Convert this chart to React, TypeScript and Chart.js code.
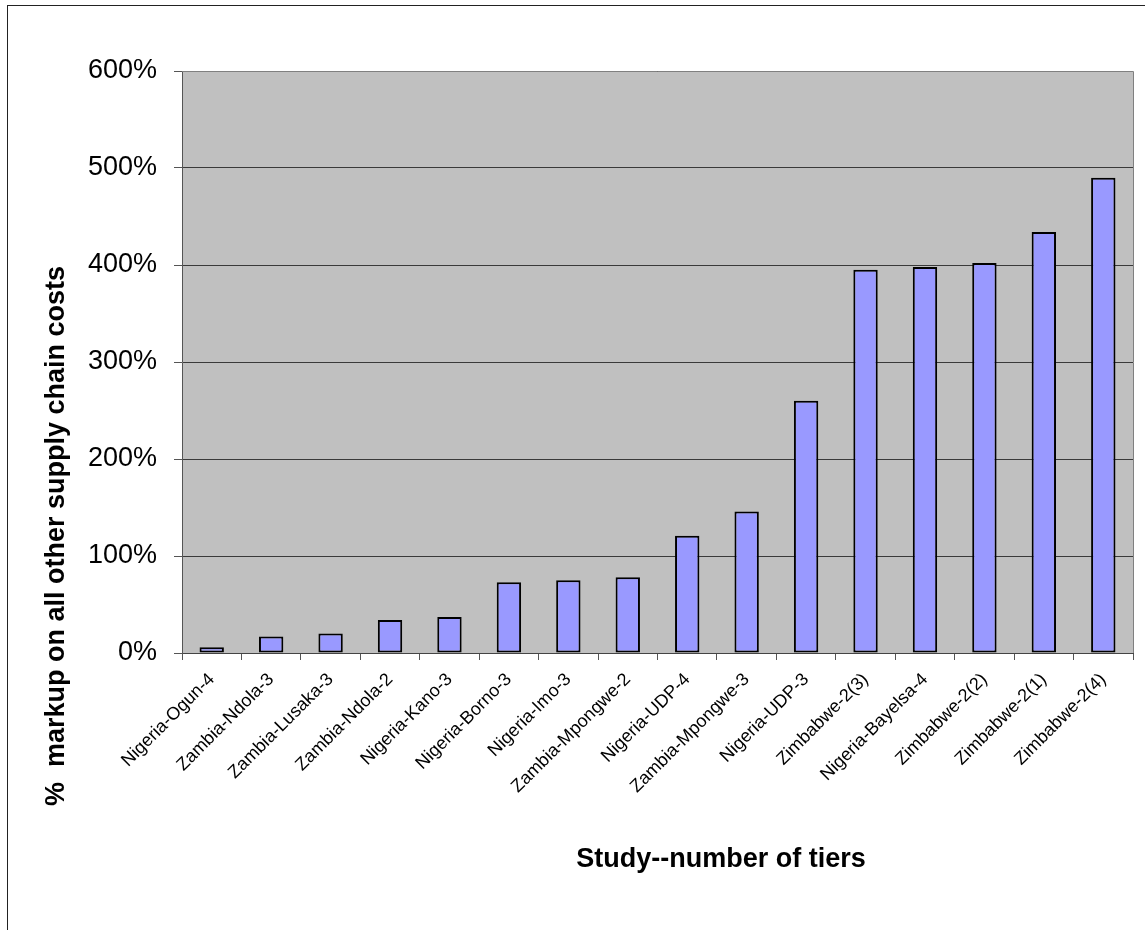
import React, { useEffect, useRef } from "react";
import { Chart, registerables } from "chart.js";

Chart.register(...registerables);

// Studies, ordered by markup
const studies = [
  "Nigeria-Ogun-4",
  "Zambia-Ndola-3",
  "Zambia-Lusaka-3",
  "Zambia-Ndola-2",
  "Nigeria-Kano-3",
  "Nigeria-Borno-3",
  "Nigeria-Imo-3",
  "Zambia-Mpongwe-2",
  "Nigeria-UDP-4",
  "Zambia-Mpongwe-3",
  "Nigeria-UDP-3",
  "Zimbabwe-2(3)",
  "Nigeria-Bayelsa-4",
  "Zimbabwe-2(2)",
  "Zimbabwe-2(1)",
  "Zimbabwe-2(4)",
];

// % markup on all other supply chain costs
const markupPercent = [6, 17, 20, 34, 37, 73, 75, 78, 121, 146, 260, 395, 398, 402, 434, 490];

const yMin = 0;
const yMax = 600;
const yStep = 100;

const yAxisTitle = "%  markup on all other supply chain costs";
const xAxisTitle = "Study--number of tiers";

const FONT = '"Liberation Sans", Arial, Helvetica, sans-serif';
const W = 1145;
const H = 930;

// Grey plot background, frame on top/right, and the two axis titles
const plotFrame = {
  id: "plotFrame",
  beforeDraw(chart: any) {
    const { ctx, chartArea } = chart;
    ctx.save();
    ctx.fillStyle = "#C0C0C0";
    ctx.fillRect(chartArea.left, chartArea.top, chartArea.right - chartArea.left, chartArea.bottom - chartArea.top);
    ctx.restore();
  },
  afterDraw(chart: any) {
    const { ctx, chartArea } = chart;
    ctx.save();
    ctx.strokeStyle = "#808080";
    ctx.lineWidth = 1;
    ctx.beginPath();
    ctx.moveTo(chartArea.left, chartArea.top + 0.5);
    ctx.lineTo(chartArea.right + 0.5, chartArea.top + 0.5);
    ctx.lineTo(chartArea.right + 0.5, chartArea.bottom);
    ctx.stroke();

    ctx.fillStyle = "#000";
    ctx.font = `bold 27px ${FONT}`;
    ctx.textAlign = "center";
    ctx.textBaseline = "alphabetic";
    ctx.fillText(xAxisTitle, 721, 867);

    ctx.translate(64, 536);
    ctx.rotate(-Math.PI / 2);
    ctx.fillText(yAxisTitle, 0, 0);
    ctx.restore();
  },
};

export default function App() {
  const canvasRef = useRef<HTMLCanvasElement | null>(null);

  useEffect(() => {
    const canvas = canvasRef.current;
    if (!canvas) return;
    const chart = new Chart(canvas, {
      type: "bar",
      data: {
        labels: studies,
        datasets: [
          {
            data: markupPercent,
            backgroundColor: "#9999FF",
            borderColor: "#000000",
            borderWidth: 2,
            borderSkipped: false,
            barPercentage: 0.41,
            categoryPercentage: 1,
          },
        ],
      },
      options: {
        responsive: false,
        animation: false,
        devicePixelRatio: 1,
        layout: { padding: { top: 71, right: 12, left: 0, bottom: 0 } },
        plugins: {
          legend: { display: false },
          tooltip: { enabled: false },
          title: { display: false },
        },
        scales: {
          x: {
            grid: {
              display: true,
              drawOnChartArea: false,
              drawTicks: true,
              tickLength: 7,
              color: "#555555",
              offset: true,
            },
            border: { display: true, color: "#444444", width: 1 },
            ticks: {
              autoSkip: false,
              minRotation: 45,
              maxRotation: 45,
              color: "#000",
              padding: 9,
              font: { family: FONT, size: 18 },
            },
            afterFit(scale: any) {
              scale.height = H - 653;
            },
          },
          y: {
            min: yMin,
            max: yMax,
            grid: {
              color: "#3a3a3a",
              lineWidth: 1,
              tickLength: 8,
              tickColor: "#555555",
            },
            border: { display: true, color: "#555555", width: 1 },
            ticks: {
              stepSize: yStep,
              color: "#000",
              padding: 17,
              font: { family: FONT, size: 27 },
              callback: (v: any) => `${v}%`,
            },
            afterFit(scale: any) {
              scale.width = 182;
            },
          },
        },
      },
      plugins: [plotFrame],
    });
    return () => chart.destroy();
  }, []);

  return (
    <div style={{ position: "absolute", left: 0, top: 0, width: W, height: H, background: "#fff", overflow: "hidden" }}>
      <div
        style={{
          position: "absolute",
          left: 7,
          top: 5,
          width: W - 7,
          height: H - 5,
          borderLeft: "1px solid #222",
          borderTop: "1px solid #222",
          boxSizing: "border-box",
        }}
      />
      <canvas ref={canvasRef} width={W} height={H} style={{ position: "absolute", left: 0, top: 0, width: W, height: H }} />
    </div>
  );
}
